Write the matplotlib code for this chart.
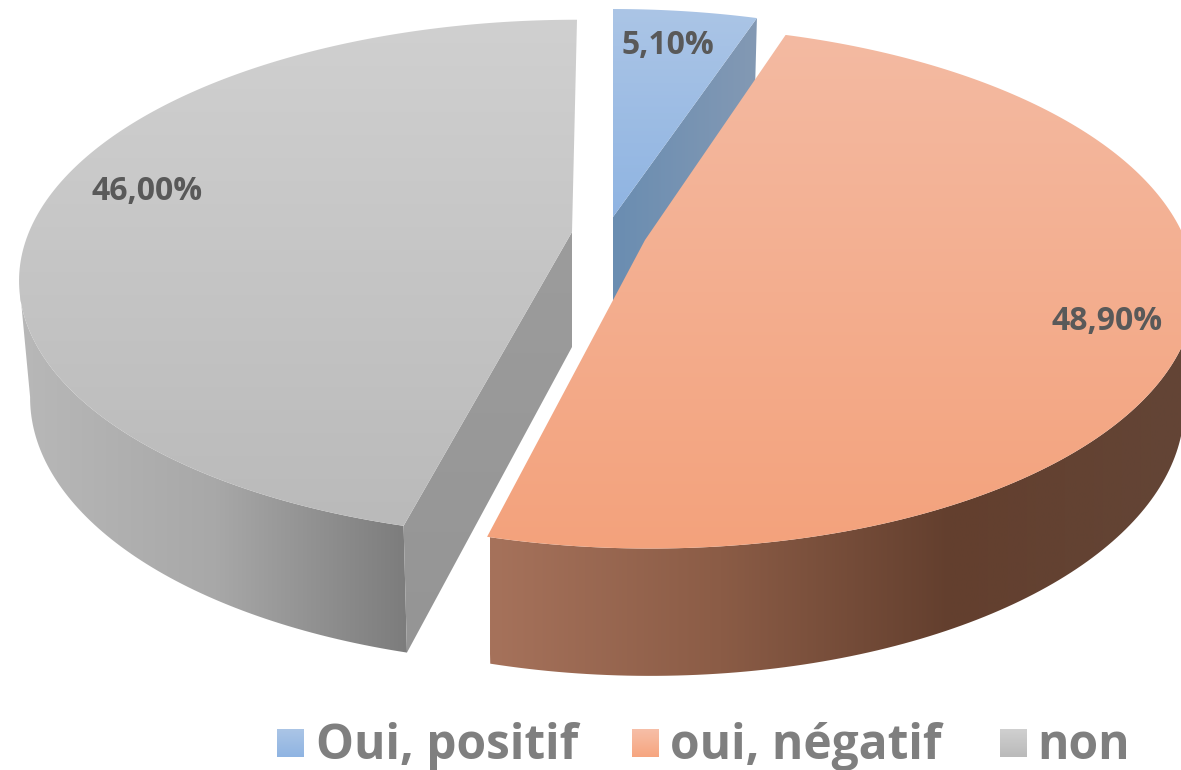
import matplotlib
matplotlib.use('Agg')
import matplotlib.pyplot as plt
import numpy as np
from matplotlib.colors import LinearSegmentedColormap
from matplotlib.patches import Polygon

names = ['Oui, positif', 'oui, négatif', 'non']
values = [5.1, 48.9, 46.0]
labels = ['5,10%', '48,90%', '46,00%']

W, H = 1181, 770
RX, RY, K = 535, 253, 0.18
DEPTH = 115

fig = plt.figure(figsize=(W / 100, H / 100), dpi=100)
ax = fig.add_axes([0, 0, 1, 1])
ax.set_xlim(0, W)
ax.set_ylim(H, 0)
ax.axis('off')


def fill(pts, colors, horizontal=False, span=None):
    # gradient clipped to the polygon
    pts = np.array(pts)
    x0, x1 = pts[:, 0].min(), pts[:, 0].max()
    y0, y1 = pts[:, 1].min(), pts[:, 1].max()
    cmap = LinearSegmentedColormap.from_list('g', colors)
    grad = np.linspace(0, 1, 256)
    grad = grad.reshape(1, -1) if horizontal else grad.reshape(-1, 1)
    if span is not None:
        x0, x1 = span
    im = ax.imshow(grad, cmap=cmap, extent=[x0, x1, y1, y0], aspect='auto',
                   zorder=fill.z, interpolation='bilinear')
    patch = Polygon(pts, closed=True, transform=ax.transData, fc='none', ec='none')
    ax.add_patch(patch)
    im.set_clip_path(patch)
    fill.z += 1


fill.z = 1


def ring(a0, a1, cx, cy, sx=1.0, sy=1.0, skew=0.0, n=200, lower=False):
    t = np.radians(np.linspace(a0, a1, n))
    X, Y = np.sin(t), np.cos(t)
    d = 1 + K * Y
    px = RX * sx * X / d + skew * Y
    py = -RY * sy * Y / d
    if lower:
        px, py = px * 0.98, py * 1.04
        return np.column_stack([cx + px, cy + DEPTH + py])
    return np.column_stack([cx + px, cy + py])


edges = np.concatenate([[0], np.cumsum(values)]) * 3.6

# blue slice
cx, cy = 613, 217
top = ring(edges[0], edges[1], cx, cy, 1.0, 0.97)
low = ring(edges[0], edges[1], cx, cy, 1.0, 0.97, lower=True)
fill([(cx, cy), top[-1], low[-1], (cx, cy + DEPTH)], ['#6A8DB1', '#8399B4'], True)
fill(np.vstack([[(cx, cy)], top]), ['#ABC5E6', '#8FB4E2'])

# grey slice, outer wall runs from the front corner to the left silhouette
cx, cy = 572, 232
top = ring(edges[2], edges[3], cx, cy, 1.015, 0.99, skew=5)
low = ring(edges[2], edges[3], cx, cy, 1.015, 0.99, skew=5, lower=True)
i = top[:, 0].argmin()
j = low[:, 0].argmin()
fill(np.vstack([top[:i + 1], low[:j + 1][::-1]]), ['#B8B8B8', '#A8A8A8', '#7B7B7B'], True, span=(20, 412))
fill([(cx, cy), top[0], low[0], (cx, cy + DEPTH)], ['#9C9C9C', '#959595'])
fill(np.vstack([[(cx, cy)], top]), ['#D0D0D0', '#BABABA'])

# orange slice
cx, cy = 645, 240
top = ring(edges[1], edges[2], cx, cy, 1.01, skew=-5)
low = ring(edges[1], edges[2], cx, cy, 1.01, skew=-5, lower=True)
i = top[:, 0].argmax()
j = low[:, 0].argmax()
fill(np.vstack([top[i:], low[j:][::-1]]), ['#A6725B', '#8B5C46', '#633F2E', '#634536'], True, span=(490, 1181))
fill(np.vstack([[(cx, cy)], top]), ['#F3BAA2', '#F4A27C'])

# data labels
label_pos = [(668, 45), (1107, 322), (147, 192)]
for lab, (x, y) in zip(labels, label_pos):
    ax.text(x, y, lab, ha='center', va='center', fontsize=23, fontweight='bold',
            family='Open Sans', color='#595959', zorder=50)

# legend
swatches = [(['#ABC5E6', '#8FB4E2'], 277, 316),
            (['#F7BFA8', '#F6A57F'], 632, 670),
            (['#D0D0D0', '#BABABA'], 1000, 1037)]
for name, (cols, sx, tx) in zip(names, swatches):
    fill([(sx, 729), (sx + 27, 729), (sx + 27, 757), (sx, 757)], cols)
    ax.text(tx, 759, name, ha='left', va='baseline', fontsize=34.5, fontweight='bold',
            family='Open Sans', color='#7F7F7F', zorder=50)

ax.set_xlim(0, W)
ax.set_ylim(H, 0)
fig.savefig('out.png', dpi=100, facecolor='white')
